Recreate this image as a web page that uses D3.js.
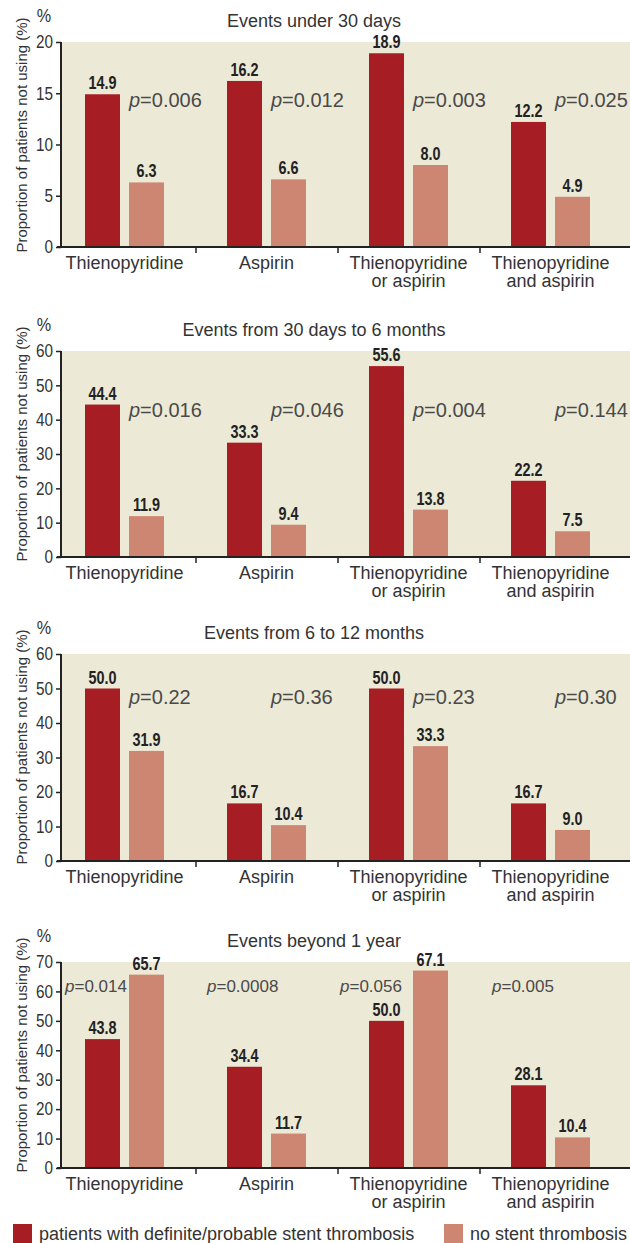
<!DOCTYPE html>
<html>
<head>
<meta charset="utf-8">
<script src="https://cdn.jsdelivr.net/npm/d3@7"></script>
<style>
  html, body { margin: 0; padding: 0; background: #ffffff; }
  svg { display: block; }
  .reg { font-family: "Liberation Sans", Arial, sans-serif; }
</style>
</head>
<body>
<svg id="chart" width="630" height="1243"></svg>
<script>
// ---------------- DATA ----------------
const categories = [
  ["Thienopyridine"],
  ["Aspirin"],
  ["Thienopyridine", "or aspirin"],
  ["Thienopyridine", "and aspirin"]
];
const seriesNames = [
  "patients with definite/probable stent thrombosis",
  "no stent thrombosis"
];
const panelTitles = [
  "Events under 30 days",
  "Events from 30 days to 6 months",
  "Events from 6 to 12 months",
  "Events beyond 1 year"
];
const stentThrombosisValues = [
  [14.9, 16.2, 18.9, 12.2],
  [44.4, 33.3, 55.6, 22.2],
  [50.0, 16.7, 50.0, 16.7],
  [43.8, 34.4, 50.0, 28.1]
];
const noStentThrombosisValues = [
  [6.3, 6.6, 8.0, 4.9],
  [11.9, 9.4, 13.8, 7.5],
  [31.9, 10.4, 33.3, 9.0],
  [65.7, 11.7, 67.1, 10.4]
];
const pValueLabels = [
  ["0.006", "0.012", "0.003", "0.025"],
  ["0.016", "0.046", "0.004", "0.144"],
  ["0.22", "0.36", "0.23", "0.30"],
  ["0.014", "0.0008", "0.056", "0.005"]
];
const yAxisMax = [20, 60, 60, 70];
const yTickValues = [
  [0, 5, 10, 15, 20],
  [0, 10, 20, 30, 40, 50, 60],
  [0, 10, 20, 30, 40, 50, 60],
  [0, 10, 20, 30, 40, 50, 60, 70]
];
const yAxisTitle = "Proportion of patients not using (%)";

// ---------------- LAYOUT ----------------
const colors = ["#a61e23", "#cd8672"];
const bgColor = "#ece9d6";
const textColor = "#333333";
const plotLeft = 61, plotRight = 629, pageRight = 630;
const panelTop = [42, 351, 654, 962];
const panelBottom = [247, 557, 861, 1168];
// p-value placement: anchor series index, x offset from that bar, y offset from plot top, font size
const pLayout = [
  { anchor: 1, dx: [0, 0, 0, 0], dy: 65, size: 20 },
  { anchor: 1, dx: [0, 0, 0, 0], dy: 66, size: 20 },
  { anchor: 1, dx: [0, 0, 0, 0], dy: 50, size: 20 },
  { anchor: 0, dx: [-20, -20, -29, -19], dy: 30, size: 17 }
];

const svg = d3.select("#chart");

const x0 = d3.scaleBand().domain(d3.range(categories.length)).range([plotLeft, plotRight]);
const x1 = d3.scaleBand().domain([0, 1]).range([24, 103]).paddingInner(0.2045);
const groupCenter = ci => x0(ci) + (x1(0) + x1(1) + x1.bandwidth()) / 2;

panelTitles.forEach((title, pi) => {
  const top = panelTop[pi], bottom = panelBottom[pi];
  const y = d3.scaleLinear().domain([0, yAxisMax[pi]]).range([bottom, top]);
  const g = svg.append("g");

  // background
  g.append("rect")
    .attr("x", plotLeft).attr("y", top)
    .attr("width", pageRight - plotLeft).attr("height", bottom - top)
    .attr("fill", bgColor);

  // title
  g.append("text").attr("class", "reg")
    .attr("x", 314).attr("y", top - 15.5)
    .attr("text-anchor", "middle")
    .attr("font-size", 18).attr("fill", textColor)
    .text(title);

  // percent sign
  g.append("text").attr("class", "reg")
    .attr("transform", `translate(44,${top - 20}) scale(0.9,1)`)
    .attr("text-anchor", "middle")
    .attr("font-size", 18).attr("fill", textColor)
    .text("%");

  // y axis title
  g.append("text").attr("class", "reg")
    .attr("transform", `translate(27,${top + 93}) rotate(-90)`)
    .attr("text-anchor", "middle")
    .attr("font-size", 15).attr("fill", textColor)
    .text(yAxisTitle);

  const rows = categories.map((c, ci) => [stentThrombosisValues[pi][ci], noStentThrombosisValues[pi][ci]]);
  rows.forEach((vals, ci) => {
    vals.forEach((v, si) => {
      const bx = x0(ci) + x1(si);
      g.append("rect")
        .attr("x", bx).attr("y", y(v))
        .attr("width", x1.bandwidth()).attr("height", y(0) - y(v))
        .attr("fill", colors[si]);
      g.append("text").attr("class", "reg")
        .attr("transform", `translate(${bx + x1.bandwidth() / 2},${y(v) - 5}) scale(0.8,1)`)
        .attr("text-anchor", "middle")
        .attr("font-size", 18).attr("font-weight", "bold")
        .attr("fill", "#222")
        .text(v.toFixed(1));
    });
    // p-value
    const pl = pLayout[pi];
    const t = g.append("text").attr("class", "reg")
      .attr("x", x0(ci) + x1(pl.anchor) + pl.dx[ci])
      .attr("y", top + pl.dy)
      .attr("font-size", pl.size).attr("fill", "#4a4a4a");
    t.append("tspan").attr("font-style", "italic").text("p");
    t.append("tspan").text("=" + pValueLabels[pi][ci]);

    // category labels
    const lab = g.append("text").attr("class", "reg")
      .attr("y", bottom + 21.5)
      .attr("text-anchor", "middle")
      .attr("font-size", 18).attr("fill", textColor);
    categories[ci].forEach((line, li) => {
      lab.append("tspan")
        .attr("x", groupCenter(ci))
        .attr("dy", li === 0 ? 0 : 18)
        .text(line);
    });
  });

  // y axis
  const yAxis = d3.axisLeft(y).tickValues(yTickValues[pi]).tickSize(5).tickFormat(d3.format("d"));
  const ya = g.append("g").attr("transform", `translate(${plotLeft},0)`).call(yAxis);
  ya.select(".domain").attr("stroke", "#222").attr("stroke-width", 2)
    .attr("d", `M0,${top}V${bottom + 1}`);
  ya.selectAll(".tick line").attr("stroke", "#222").attr("stroke-width", 1.5);
  ya.selectAll(".tick text")
    .attr("x", 0)
    .attr("transform", "translate(-8,0) scale(0.85,1)")
    .attr("font-family", "Liberation Sans, Arial, sans-serif")
    .attr("font-size", 18).attr("fill", textColor);

  // x axis baseline with separators between category groups
  const seps = d3.range(categories.length - 1).map(ci =>
    ((x0(ci) + x1(1) + x1.bandwidth()) + (x0(ci + 1) + x1(0))) / 2);
  const xa = g.append("g").attr("transform", `translate(0,${bottom})`)
    .call(d3.axisBottom(d3.scaleLinear().domain([plotLeft, plotRight]).range([plotLeft, plotRight]))
      .tickValues(seps).tickSize(6).tickFormat(""));
  xa.select(".domain").attr("stroke", "#222").attr("stroke-width", 2)
    .attr("d", `M${plotLeft - 4},0H${pageRight}`);
  xa.selectAll(".tick line").attr("stroke", "#222").attr("stroke-width", 1.5);
});

// legend
const legend = svg.append("g");
const legendX = [13, 444];
seriesNames.forEach((name, si) => {
  legend.append("rect")
    .attr("x", legendX[si]).attr("y", 1224)
    .attr("width", 19).attr("height", 19)
    .attr("fill", colors[si]);
  legend.append("text").attr("class", "reg")
    .attr("x", legendX[si] + 26).attr("y", 1240)
    .attr("font-size", 18).attr("fill", textColor)
    .text(name);
});
</script>
</body>
</html>
